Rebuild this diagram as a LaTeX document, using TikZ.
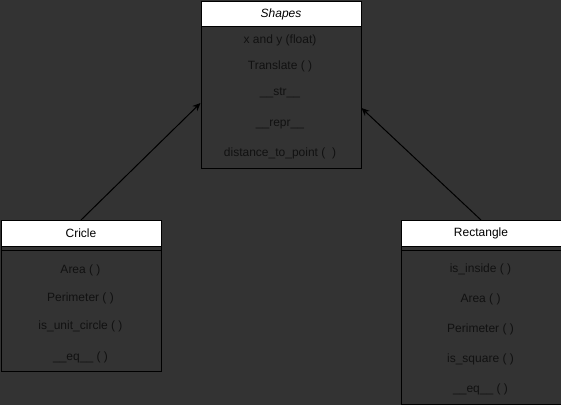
\documentclass[tikz,border=0pt]{standalone}
\usepackage{fontspec}
\setmainfont{Liberation Sans}
\usetikzlibrary{arrows.meta}
\definecolor{bg}{HTML}{333333}
\definecolor{ink}{HTML}{111111}
\begin{document}
\begin{tikzpicture}[x=1pt,y=-1pt,
  hdr/.style={draw=black,fill=white,line width=1pt,inner sep=0pt,anchor=north west,text=black,font=\fontsize{12}{14}\selectfont},
  bodybox/.style={draw=black,fill=bg,line width=1pt,inner sep=0pt,anchor=north west},
  item/.style={inner sep=0pt,text=ink,font=\fontsize{12}{14}\selectfont},
  link/.style={draw=black,line width=1pt,-{Stealth[length=8pt,width=7pt]}}]
\fill[bg] (0,0) rectangle (561,405);
\useasboundingbox (0,0) rectangle (561,405);
% Shapes
\node[hdr,minimum width=160pt,minimum height=25pt] (shapesH) at (200.5,1) {\textit{Shapes}};
\node[bodybox,minimum width=160pt,minimum height=142pt] (shapesB) at (200.5,26) {};
\node[item] (s1) at (280,40) {x and y (float)};
\node[item] (s2) at (280,66) {Translate ( )};
\node[item] (s3) at (280,93) {\_\_str\_\_};
\node[item] (s4) at (280,125) {\_\_repr\_\_};
\node[item] (s5) at (280,153) {distance\_to\_point (\ \ )};
% Circle
\node[hdr,minimum width=160pt,minimum height=26pt] (circH) at (0.5,220) {Cricle};
\node[bodybox,minimum width=160pt,minimum height=4pt] (circA) at (0.5,246) {};
\node[bodybox,minimum width=160pt,minimum height=121pt] (circB) at (0.5,250) {};
\node[item] (c1) at (80.5,270) {Area ( )};
\node[item] (c2) at (80.5,298) {Perimeter ( )};
\node[item] (c3) at (80.5,326) {is\_unit\_circle ( )};
\node[item] (c4) at (80.5,357) {\_\_eq\_\_ ( )};
% Rectangle
\node[hdr,minimum width=160pt,minimum height=26pt] (rectH) at (400.5,220) {Rectangle};
\node[bodybox,minimum width=160pt,minimum height=4pt] (rectA) at (400.5,246) {};
\node[bodybox,minimum width=160pt,minimum height=154pt] (rectB) at (400.5,250) {};
\node[item] (r1) at (480.5,269) {is\_inside ( )};
\node[item] (r2) at (480.5,299) {Area ( )};
\node[item] (r3) at (480.5,329) {Perimeter ( )};
\node[item] (r4) at (480.5,359) {is\_square ( )};
\node[item] (r5) at (480.5,389) {\_\_eq\_\_ ( )};
% connectors
\coordinate (sl) at (shapesB.west |- 0,103);
\coordinate (sr) at (shapesB.east |- 0,108);
\draw[link] (circH.north) -- (sl);
\draw[link] (rectH.north) -- (sr);
\end{tikzpicture}
\end{document}
